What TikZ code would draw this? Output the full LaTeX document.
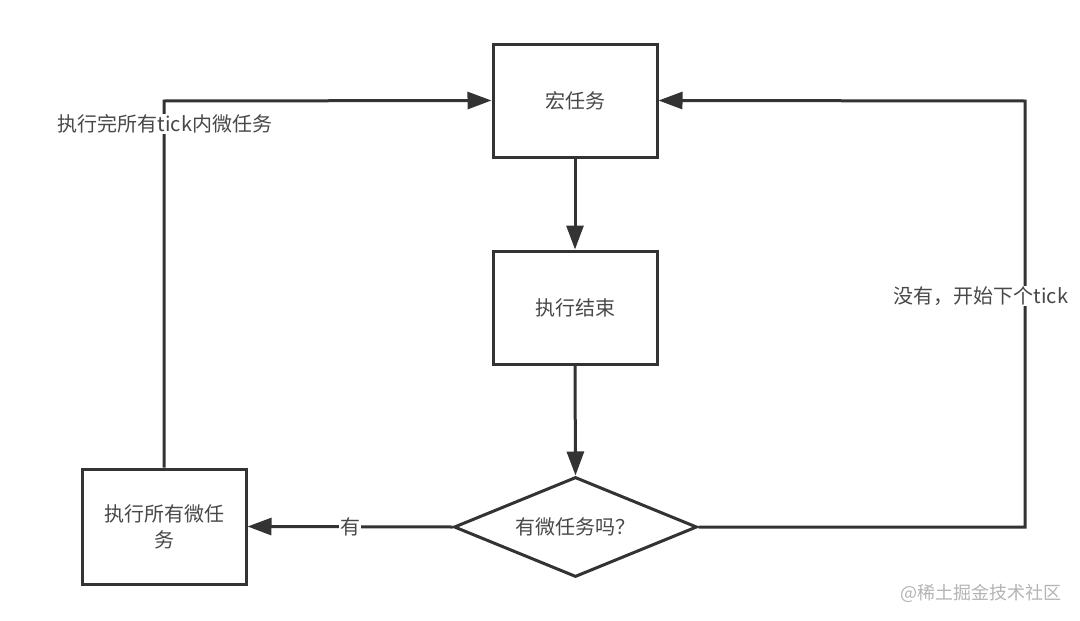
\documentclass[tikz,border=0pt]{standalone}
\usepackage{fontspec}
\setmainfont{Noto Sans CJK SC}
\usetikzlibrary{arrows.meta,shapes.geometric}
\definecolor{ln}{HTML}{333333}
\definecolor{tx}{HTML}{484848}
\definecolor{wm}{HTML}{B4B4B4}
\begin{document}
\begin{tikzpicture}[x=1pt,y=-1pt,
  box/.style={draw=ln,line width=3pt,fill=white,minimum width=164pt,minimum height=113pt,inner sep=2pt,text=tx,font=\fontsize{20}{26}\selectfont,align=center},
  dec/.style={draw=ln,line width=3pt,fill=white,shape=diamond,aspect=2.43,minimum width=243pt,minimum height=100pt,inner sep=0pt,text=tx,font=\fontsize{20}{26}\selectfont},
  arr/.style={draw=ln,line width=3pt,-{Triangle[length=24pt,width=17pt]}},
  lbl/.style={fill=white,text=tx,inner sep=1pt,font=\fontsize{20}{26}\selectfont}]
\useasboundingbox (0,0) rectangle (1080,621);
\fill[white] (0,0) rectangle (1080,621);
\node[box] (m) at (575,100.5) {宏任务};
\node[box] (e) at (575,307.5) {执行结束};
\node[dec] (d) at (575.5,527) {有微任务吗？};
\node[box,minimum height=115pt] (a) at (164,526.5) {执行所有微任\\务};
\coordinate (r1) at (1025,527);
\coordinate (r2) at (1025,101);
\coordinate (l1) at (164,101);
\draw[arr] (m.south) -- (e.north);
\draw[arr] (e.south) -- (d.north);
\draw[arr] (d.west) -- (a.east);
\node[lbl] (ly) at (350,527) {有};
\draw[arr] (d.east) -- (r1) -- (r2) -- (m.east);
\node[lbl] (lr) at (981,296) {没有，开始下个tick};
\draw[arr] (a.north) -- (l1) -- (m.west);
\node[lbl] (ll) at (165,124) {执行完所有tick内微任务};
\node[text=wm,font=\fontsize{18}{22}\selectfont,inner sep=0pt] (w) at (981,593) {@稀土掘金技术社区};
\end{tikzpicture}
\end{document}
